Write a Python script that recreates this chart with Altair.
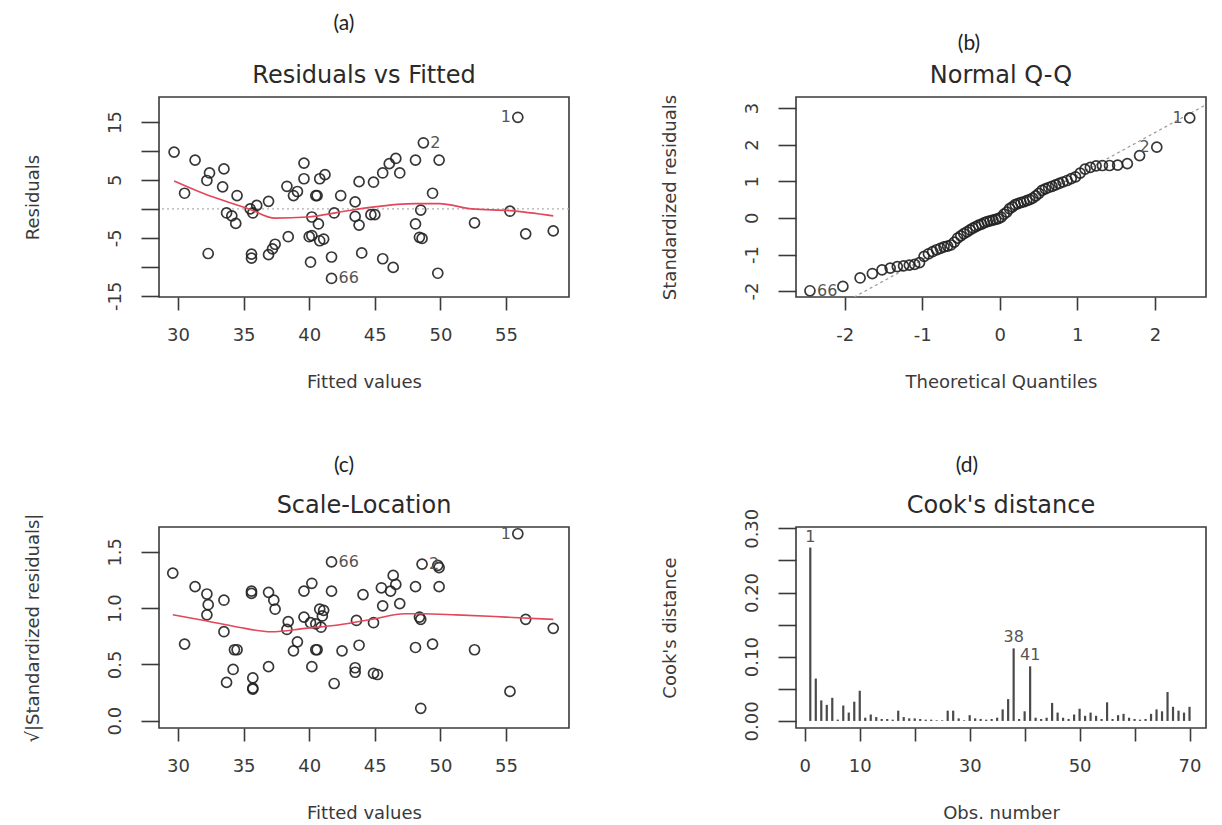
import altair as alt
import pandas as pd

FONT = "DejaVu Sans"

# ---------------- panel headings ----------------
panel_letters = ["(a)", "(b)", "(c)", "(d)"]
panel_names = ["Residuals vs Fitted", "Normal Q-Q", "Scale-Location", "Cook's distance"]

# ---------------- (a) Residuals vs Fitted ----------------
a_fitted = [29.7, 30.5, 31.3, 32.2, 32.4, 32.3, 33.5, 33.4, 34.5, 33.7,
            34.1, 34.4, 35.5, 35.7, 36.0, 35.6, 35.6, 36.9, 36.9, 37.2,
            37.4, 38.4, 38.3, 38.8, 39.1, 39.6, 39.6, 40.0, 40.2, 40.1,
            40.5, 40.6, 40.2, 40.7, 40.8, 41.2, 40.8, 41.1, 41.7, 41.7,
            41.9, 42.4, 43.5, 43.8, 43.5, 43.8, 44.0, 44.9, 44.7, 45.0,
            45.6, 46.1, 46.6, 46.9, 45.6, 46.4, 48.1, 48.1, 48.5, 48.4,
            48.6, 48.7, 49.4, 49.9, 49.8, 52.6, 55.3, 56.5, 58.6, 55.9]
a_resid = [9.8, 2.7, 8.4, 4.9, 6.2, -7.7, 6.9, 3.8, 2.3, -0.7,
           -1.2, -2.5, 0.0, -0.7, 0.6, -7.8, -8.5, 1.3, -7.9, -6.9,
           -6.1, -4.8, 3.9, 2.3, 3.0, 7.9, 5.2, -4.8, -4.6, -9.2,
           2.3, 2.3, -1.4, -2.6, 5.2, 5.9, -5.5, -5.2, -8.3, -12.0,
           -0.7, 2.3, 1.2, 4.7, -1.3, -2.8, -7.6, 4.6, -1.0, -1.0,
           6.2, 7.8, 8.7, 6.2, -8.6, -10.1, 8.4, -2.6, -0.2, -4.9,
           -5.1, 11.4, 2.7, 8.4, -11.1, -2.4, -0.4, -4.3, -3.8, 15.8]
a_smooth_x = [29.7, 32.0, 35.4, 37.4, 39.9, 42.2, 44.8, 48.1, 49.9, 52.4, 55.3, 58.6]
a_smooth_y = [4.8, 2.6, 0.0, -1.6, -1.4, -0.6, 0.3, 0.9, 0.9, 0.0, -0.3, -1.2]
a_ref_y = [0]
a_lab_left_x, a_lab_left_y, a_lab_left_t = [55.9], [15.8], ["1"]
a_lab_right_x, a_lab_right_y, a_lab_right_t = [48.7, 41.7], [11.4, -12.0], ["2", "66"]
a_x_ticks = [30, 35, 40, 45, 50, 55]
a_y_ticks = [-15, -10, -5, 0, 5, 10, 15]

# ---------------- (b) Normal Q-Q ----------------
b_theoretical = [-2.45, -2.025, -1.803, -1.645, -1.52, -1.415, -1.323, -1.242, -1.168, -1.099,
                 -1.036, -0.977, -0.921, -0.867, -0.816, -0.767, -0.72, -0.674, -0.63, -0.587,
                 -0.545, -0.504, -0.464, -0.424, -0.385, -0.347, -0.309, -0.272, -0.235, -0.198,
                 -0.162, -0.126, -0.09, -0.054, -0.018, 0.018, 0.054, 0.09, 0.126, 0.162,
                 0.198, 0.235, 0.272, 0.309, 0.347, 0.385, 0.424, 0.464, 0.504, 0.545,
                 0.587, 0.63, 0.674, 0.72, 0.767, 0.816, 0.867, 0.921, 0.977, 1.036,
                 1.099, 1.168, 1.242, 1.323, 1.415, 1.52, 1.645, 1.803, 2.025, 2.45]
b_sample = [-1.99, -1.87, -1.64, -1.52, -1.42, -1.37, -1.33, -1.31, -1.29, -1.27,
            -1.22, -1.05, -0.98, -0.92, -0.87, -0.83, -0.79, -0.77, -0.74, -0.66,
            -0.55, -0.49, -0.43, -0.38, -0.33, -0.28, -0.24, -0.20, -0.17, -0.13,
            -0.10, -0.08, -0.06, -0.04, -0.02, 0.02, 0.10, 0.16, 0.25, 0.30,
            0.36, 0.39, 0.42, 0.44, 0.47, 0.50, 0.54, 0.60, 0.67, 0.75,
            0.79, 0.83, 0.86, 0.90, 0.94, 0.98, 1.02, 1.07, 1.12, 1.22,
            1.33, 1.38, 1.42, 1.43, 1.43, 1.44, 1.48, 1.70, 1.93, 2.73]
b_line_x = [-2.63, 2.66]
b_line_y = [-3.03, 3.09]
b_lab_left_x, b_lab_left_y, b_lab_left_t = [2.45, 2.025], [2.73, 1.93], ["1", "2"]
b_lab_right_x, b_lab_right_y, b_lab_right_t = [-2.45], [-1.99], ["66"]
b_x_ticks = [-2, -1, 0, 1, 2]
b_y_ticks = [-2, -1, 0, 1, 2, 3]

# ---------------- (c) Scale-Location ----------------
c_fitted = [29.6, 30.5, 31.3, 32.2, 32.3, 32.2, 33.5, 33.5, 33.7, 34.2,
            34.3, 34.5, 35.6, 35.6, 35.7, 35.7, 35.7, 36.9, 37.3, 37.4,
            36.9, 38.4, 38.3, 39.1, 38.8, 39.6, 39.6, 40.2, 40.2, 40.5,
            40.6, 40.1, 40.5, 40.8, 41.1, 41.0, 41.7, 41.7, 41.9, 42.5,
            43.6, 43.8, 43.5, 43.5, 44.1, 44.9, 44.9, 45.2, 45.6, 45.5,
            46.2, 46.4, 46.6, 46.9, 48.1, 48.1, 48.4, 48.5, 48.5, 48.6,
            49.4, 49.8, 49.9, 49.9, 52.6, 55.3, 55.9, 56.5, 58.6, 40.9]
c_sqrt_std = [1.31, 0.68, 1.19, 1.125, 1.03, 0.94, 1.07, 0.79, 0.34, 0.455,
              0.63, 0.63, 1.15, 1.13, 0.38, 0.29, 0.28, 1.14, 1.07, 0.99,
              0.48, 0.88, 0.81, 0.70, 0.62, 0.92, 1.15, 1.22, 0.48, 0.63,
              0.63, 0.87, 0.86, 0.99, 0.98, 0.93, 1.15, 1.41, 0.33, 0.62,
              0.89, 0.67, 0.47, 0.43, 1.12, 0.87, 0.42, 0.41, 1.02, 1.18,
              1.15, 1.29, 1.21, 1.04, 1.19, 0.65, 0.92, 0.90, 0.11, 1.39,
              0.68, 1.38, 1.19, 1.36, 0.63, 0.26, 1.66, 0.90, 0.82, 0.83]
c_smooth_x = [29.6, 32.0, 34.6, 37.1, 39.7, 42.2, 44.8, 47.3, 48.6, 51.2, 55.0, 58.6]
c_smooth_y = [0.94, 0.89, 0.83, 0.79, 0.82, 0.85, 0.90, 0.95, 0.95, 0.94, 0.92, 0.90]
c_lab_left_x, c_lab_left_y, c_lab_left_t = [55.9], [1.66], ["1"]
c_lab_right_x, c_lab_right_y, c_lab_right_t = [41.7, 48.6], [1.41, 1.39], ["66", "2"]
c_y_ticks = [0.0, 0.5, 1.0, 1.5]

# ---------------- (d) Cook's distance ----------------
d_obs = list(range(1, 71))
d_cook = [0.270, 0.066, 0.032, 0.025, 0.036, 0.002, 0.024, 0.013, 0.030, 0.047,
          0.005, 0.010, 0.006, 0.003, 0.003, 0.002, 0.016, 0.006, 0.004, 0.004,
          0.003, 0.002, 0.002, 0.001, 0.001, 0.016, 0.016, 0.004, 0.001, 0.009,
          0.004, 0.003, 0.002, 0.003, 0.005, 0.018, 0.034, 0.113, 0.003, 0.015,
          0.085, 0.005, 0.003, 0.005, 0.028, 0.013, 0.005, 0.003, 0.010, 0.019,
          0.008, 0.013, 0.008, 0.003, 0.029, 0.003, 0.009, 0.011, 0.005, 0.003,
          0.002, 0.003, 0.011, 0.018, 0.015, 0.045, 0.022, 0.016, 0.013, 0.022]
d_lab_x, d_lab_y, d_lab_t = [1, 38, 41], [0.270, 0.113, 0.085], ["1", "38", "41"]
d_x_ticks = [0, 10, 20, 30, 40, 50, 60, 70]
d_y_ticks = [0.0, 0.05, 0.10, 0.15, 0.20, 0.25, 0.30]

# ---------------- helpers ----------------
POINT_COLOR = "#222222"
RED = "#e2475a"
LABEL_COLOR = "#555555"
W = 410


def xy(xdom, ydom, xticks, yticks, xtitle, ytitle, xexpr=None, yexpr=None):
    xa = dict(values=xticks, title=xtitle)
    if xexpr:
        xa["labelExpr"] = xexpr
    ya = dict(values=yticks, title=ytitle)
    if yexpr:
        ya["labelExpr"] = yexpr
    x = alt.X("x:Q", scale=alt.Scale(domain=xdom, nice=False, zero=False), axis=alt.Axis(**xa))
    y = alt.Y("y:Q", scale=alt.Scale(domain=ydom, nice=False, zero=False), axis=alt.Axis(**ya))
    return x, y


def df(xs, ys, ts=None):
    d = {"x": xs, "y": ys}
    if ts is not None:
        d["t"] = ts
    return pd.DataFrame(d)


def points(xs, ys, x, y):
    return alt.Chart(df(xs, ys)).mark_point(
        shape="circle", size=100, strokeWidth=1.7, color=POINT_COLOR, opacity=0.9
    ).encode(x=x, y=y)


def labels(xs, ys, ts, x, y, side):
    if side == "left":
        m = alt.Chart(df(xs, ys, ts)).mark_text(align="right", baseline="middle", dx=-7,
                                               font=FONT, fontSize=16, color=LABEL_COLOR)
    else:
        m = alt.Chart(df(xs, ys, ts)).mark_text(align="left", baseline="middle", dx=7,
                                               font=FONT, fontSize=16, color=LABEL_COLOR)
    return m.encode(x=x, y=y, text="t:N")


def heading(i, letter_x, letter_y):
    letter = alt.Chart(pd.DataFrame({"t": [panel_letters[i]]})).mark_text(
        font="Lato", fontSize=21, color="#222222", align="center", baseline="middle"
    ).encode(text="t:N", x=alt.value(letter_x), y=alt.value(letter_y))
    name = alt.Chart(pd.DataFrame({"t": [panel_names[i]]})).mark_text(
        font=FONT, fontSize=24, color="#2a2a2a", align="center", baseline="middle"
    ).encode(text="t:N", x=alt.value(W / 2), y=alt.value(-21))
    return [letter, name]


tick_expr_a = "datum.value % 10 == 0 ? '' : toString(datum.value)"
plain_expr = "toString(datum.value)"

# panel (a)
xa, ya = xy([28.55, 59.8], [-15.2, 19.3], a_x_ticks, a_y_ticks, "Fitted values", "Residuals",
            yexpr=tick_expr_a)
pa = alt.layer(
    alt.Chart(pd.DataFrame({"y": a_ref_y})).mark_rule(color="#b0b0b0", strokeDash=[2, 3], strokeWidth=1.2).encode(y=ya),
    points(a_fitted, a_resid, xa, ya),
    alt.Chart(df(a_smooth_x, a_smooth_y)).mark_line(color=RED, strokeWidth=1.6, interpolate="monotone").encode(x=xa, y=ya),
    labels(a_lab_left_x, a_lab_left_y, a_lab_left_t, xa, ya, "left"),
    labels(a_lab_right_x, a_lab_right_y, a_lab_right_t, xa, ya, "right"),
    *heading(0, 185, -73),
).properties(width=W, height=200)

# panel (b)
xb, yb = xy([-2.63, 2.66], [-2.16, 3.30], b_x_ticks, b_y_ticks, "Theoretical Quantiles",
            "Standardized residuals", xexpr=plain_expr, yexpr=plain_expr)
pb = alt.layer(
    alt.Chart(df(b_line_x, b_line_y)).mark_line(color="#9a9a9a", strokeDash=[3, 3], strokeWidth=1.2, clip=True).encode(x=xb, y=yb),
    points(b_theoretical, b_sample, xb, yb),
    labels(b_lab_left_x, b_lab_left_y, b_lab_left_t, xb, yb, "left"),
    labels(b_lab_right_x, b_lab_right_y, b_lab_right_t, xb, yb, "right"),
    *heading(1, 173, -53),
).properties(width=W, height=200)

# panel (c)
xc, yc = xy([28.55, 59.8], [-0.065, 1.72], a_x_ticks, c_y_ticks, "Fitted values",
            "√|Standardized residuals|", yexpr="format(datum.value, '.1f')")
pc = alt.layer(
    points(c_fitted, c_sqrt_std, xc, yc),
    alt.Chart(df(c_smooth_x, c_smooth_y)).mark_line(color=RED, strokeWidth=1.6, interpolate="monotone").encode(x=xc, y=yc),
    labels(c_lab_left_x, c_lab_left_y, c_lab_left_t, xc, yc, "left"),
    labels(c_lab_right_x, c_lab_right_y, c_lab_right_t, xc, yc, "right"),
    *heading(2, 185, -61),
).properties(width=W, height=201)

# panel (d)
xd, yd = xy([-1.6, 73], [-0.011, 0.302], d_x_ticks, d_y_ticks, "Obs. number", "Cook's distance",
            xexpr="(datum.value == 20 || datum.value == 40 || datum.value == 60) ? '' : toString(datum.value)",
            yexpr="round(datum.value * 100) % 10 == 0 ? format(datum.value, '.2f') : ''")
pd_ = alt.layer(
    alt.Chart(df(d_obs, d_cook)).mark_rule(color="#4a4a4a", strokeWidth=2.2).encode(x=xd, y=yd, y2=alt.datum(0)),
    alt.Chart(df(d_lab_x, d_lab_y, d_lab_t)).mark_text(align="center", baseline="bottom", dy=-3,
                                                       font=FONT, fontSize=16, color=LABEL_COLOR
                                                       ).encode(x=xd, y=yd, text="t:N"),
    *heading(3, 171, -61),
).properties(width=W, height=201)

chart = alt.concat(
    pa, pb, pc, pd_, columns=2, spacing={"row": 230, "column": 227}, bounds="flush"
).properties(
    padding={"left": 15, "top": 4, "right": 5, "bottom": 5}, background="white"
).configure_view(
    stroke="#3a3a3a", strokeWidth=1.6
).configure_axis(
    domain=False, grid=False, tickColor="#3a3a3a", tickWidth=1.6,
    labelFont=FONT, labelFontSize=18, labelColor="#3a3a3a",
    titleFont=FONT, titleFontSize=18, titleColor="#3a3a3a", titleFontWeight="normal",
    labelOverlap=False, labelFlush=False
).configure_axisX(
    tickSize=13, labelPadding=16, titlePadding=29
).configure_axisY(
    tickSize=18, labelPadding=17, titlePadding=64, labelAngle=270, labelAlign="center", labelBaseline="bottom"
)

chart.save("out.html", embed_options={"renderer": "svg", "actions": False})
